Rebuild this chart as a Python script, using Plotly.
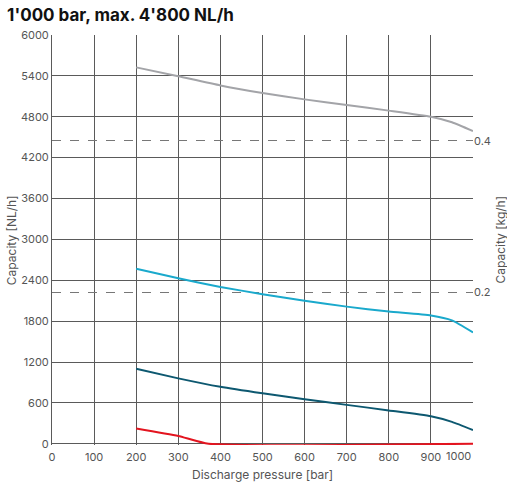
import plotly.graph_objects as go

# Discharge pressure [bar]
pressure = [200, 300, 400, 500, 600, 700, 800, 900, 950, 1000]

# Capacity [NL/h] per curve
cap_gray = [5525, 5395, 5260, 5150, 5055, 4972, 4890, 4800, 4720, 4590]
cap_cyan = [2570, 2430, 2302, 2196, 2100, 2013, 1941, 1883, 1811, 1634]
cap_dark = [1100, 960, 836, 740, 653, 571, 490, 404, 322, 202]

red_pressure = [200, 300, 372, 1000]
cap_red = [225, 115, 0, 0]

x_ticks = [0, 100, 200, 300, 400, 500, 600, 700, 800, 900, 1000]
y_ticks = [0, 600, 1200, 1800, 2400, 3000, 3600, 4200, 4800, 5400, 6000]
kg_ticks = [0.2, 0.4]
NL_PER_KG = 2224 / 0.2  # hydrogen, NL/h per kg/h

GRID = "#5a5a5a"
TICK_FONT = dict(family="Inter", size=11, color="#555555")
LABEL_FONT = dict(family="Inter", size=12, color="#555555")
Y_MIN = -18  # a hair below zero so the red line on the axis is not clipped

fig = go.Figure()
for xs, ys, col in [
    (pressure, cap_gray, "#a3a4a8"),
    (pressure, cap_cyan, "#1aa9cc"),
    (pressure, cap_dark, "#0d5870"),
    (red_pressure, cap_red, "#e3141f"),
]:
    fig.add_trace(go.Scatter(
        x=xs, y=ys, mode="lines",
        line=dict(color=col, width=2, shape="spline", smoothing=0.5),
        showlegend=False, hoverinfo="x+y"
    ))

# invisible trace to activate the kg/h axis
fig.add_trace(go.Scatter(x=[None], y=[None], yaxis="y2", showlegend=False))

fig.update_layout(
    width=507,
    height=484,
    margin=dict(l=52, r=34, t=35, b=39),
    paper_bgcolor="white",
    plot_bgcolor="white",
    title=dict(
        text="<b>1'000 bar, max. 4'800 NL/h</b>",
        font=dict(family="Inter", size=17, color="#111111"),
        x=0.014, xanchor="left", y=0.968, yanchor="middle"
    ),
    xaxis=dict(
        range=[0, 1000],
        tickvals=x_ticks[:-1],
        showgrid=True, gridcolor=GRID, gridwidth=1,
        showline=False, zeroline=False, ticks="",
        ticklabelstandoff=4,
        tickfont=TICK_FONT, automargin=False,
    ),
    yaxis=dict(
        range=[Y_MIN, 6000],
        tickvals=y_ticks,
        showgrid=True, gridcolor=GRID, gridwidth=1,
        showline=True, linecolor=GRID, mirror=False,
        zeroline=True, zerolinecolor=GRID, zerolinewidth=1,
        layer="below traces",
        ticks="", tickfont=TICK_FONT, automargin=False,
    ),
    yaxis2=dict(
        overlaying="y", side="right",
        range=[Y_MIN / NL_PER_KG, 6000 / NL_PER_KG],
        tickvals=kg_ticks,
        showgrid=True, gridcolor="#777777", griddash="dash", gridwidth=1,
        zeroline=False, showline=False, ticks="",
        tickfont=TICK_FONT, automargin=False,
    ),
)

# last x label sits flush with the plot edge
fig.add_annotation(
    x=x_ticks[-1], y=0, xref="x", yref="paper", text=str(x_ticks[-1]),
    showarrow=False, xanchor="right", yanchor="top", yshift=-2,
    font=TICK_FONT
)

# axis titles
fig.add_annotation(x=0.5, y=-0.071, xref="paper", yref="paper", text="Discharge pressure [bar]",
                   showarrow=False, xanchor="center", yanchor="middle", font=LABEL_FONT)
fig.add_annotation(x=-0.097, y=0.5, xref="paper", yref="paper", text="Capacity [NL/h]",
                   showarrow=False, textangle=-90, xanchor="center", yanchor="middle", font=LABEL_FONT)
fig.add_annotation(x=1.063, y=0.5, xref="paper", yref="paper", text="Capacity [kg/h]",
                   showarrow=False, textangle=-90, xanchor="center", yanchor="middle", font=LABEL_FONT)

# drop the default page margin so the figure fills the window
fig.write_html("out.html", config={"displayModeBar": False},
               post_script="document.body.style.margin='0';")
